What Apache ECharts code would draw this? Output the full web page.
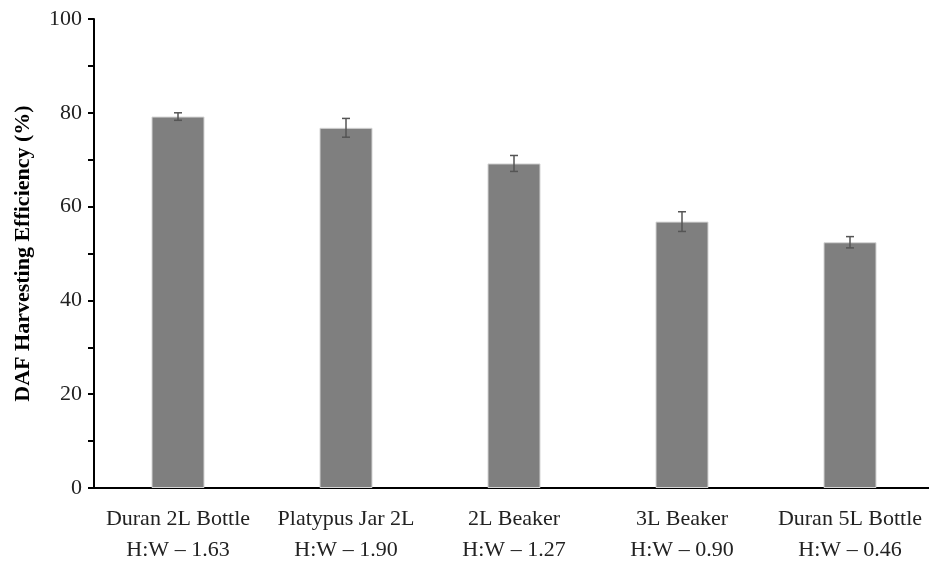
<!DOCTYPE html>
<html>
<head>
<meta charset="utf-8">
<script src="https://cdn.jsdelivr.net/npm/echarts@6/dist/echarts.min.js"></script>
<style>
  html, body { margin: 0; padding: 0; background: #fff; }
  #chart { width: 929px; height: 561px; }
</style>
</head>
<body>
<div id="chart"></div>
<script>
// Vessel types with their height-to-width ratio
const categories = [
  'Duran 2L Bottle\nH:W \u2013 1.63',
  'Platypus Jar 2L\nH:W \u2013 1.90',
  '2L Beaker\nH:W \u2013 1.27',
  '3L Beaker\nH:W \u2013 0.90',
  'Duran 5L Bottle\nH:W \u2013 0.46'
];
// Mean harvesting efficiency (%) and standard deviation
const efficiency = [79.2, 76.8, 69.2, 56.8, 52.4];
const deviation = [0.8, 2.0, 1.7, 2.1, 1.2];
const yTicks = [0, 20, 40, 60, 80, 100];

const serif = '"Liberation Serif", "Times New Roman", serif';

const errorData = efficiency.map((v, i) => [i, v - deviation[i], v + deviation[i]]);

const chart = echarts.init(document.getElementById('chart'), null, { renderer: 'canvas' });
chart.setOption({
  animation: false,
  backgroundColor: '#ffffff',
  grid: { left: 94, top: 19, width: 840, bottom: 73, containLabel: false, outerBoundsMode: 'none' },
  xAxis: {
    type: 'category',
    data: categories,
    axisLine: { lineStyle: { color: '#000', width: 2 } },
    axisTick: { show: false },
    axisLabel: {
      interval: 0,
      color: '#222', fontFamily: serif, fontSize: 22, lineHeight: 31, margin: 16
    }
  },
  yAxis: {
    type: 'value',
    min: 0, max: 100, interval: 10,
    name: 'DAF Harvesting Efficiency (%)',
    nameLocation: 'middle',
    nameGap: 60,
    nameTextStyle: { color: '#000', fontFamily: serif, fontSize: 22, fontWeight: 'bold' },
    axisLine: { show: true, lineStyle: { color: '#000', width: 2 } },
    axisTick: { show: true, inside: false, length: 6, lineStyle: { color: '#000', width: 2 } },
    axisLabel: {
      color: '#222', fontFamily: serif, fontSize: 22, margin: 12,
      formatter: v => (yTicks.indexOf(v) >= 0 ? String(v) : '')
    },
    splitLine: { show: false }
  },
  series: [
    {
      type: 'bar',
      data: efficiency,
      barWidth: 53,
      itemStyle: { color: '#7f7f7f', borderColor: '#d4d4d4', borderWidth: 1 }
    },
    {
      type: 'custom',
      data: errorData,
      z: 5,
      renderItem: function (params, api) {
        const x = api.value(0);
        const lo = api.coord([x, api.value(1)]);
        const hi = api.coord([x, api.value(2)]);
        const cap = 4;
        const style = { stroke: '#555', lineWidth: 1.5 };
        return {
          type: 'group',
          children: [
            { type: 'line', shape: { x1: lo[0], y1: lo[1], x2: hi[0], y2: hi[1] }, style },
            { type: 'line', shape: { x1: hi[0] - cap, y1: hi[1], x2: hi[0] + cap, y2: hi[1] }, style },
            { type: 'line', shape: { x1: lo[0] - cap, y1: lo[1], x2: lo[0] + cap, y2: lo[1] }, style }
          ]
        };
      }
    }
  ]
});
</script>
</body>
</html>
